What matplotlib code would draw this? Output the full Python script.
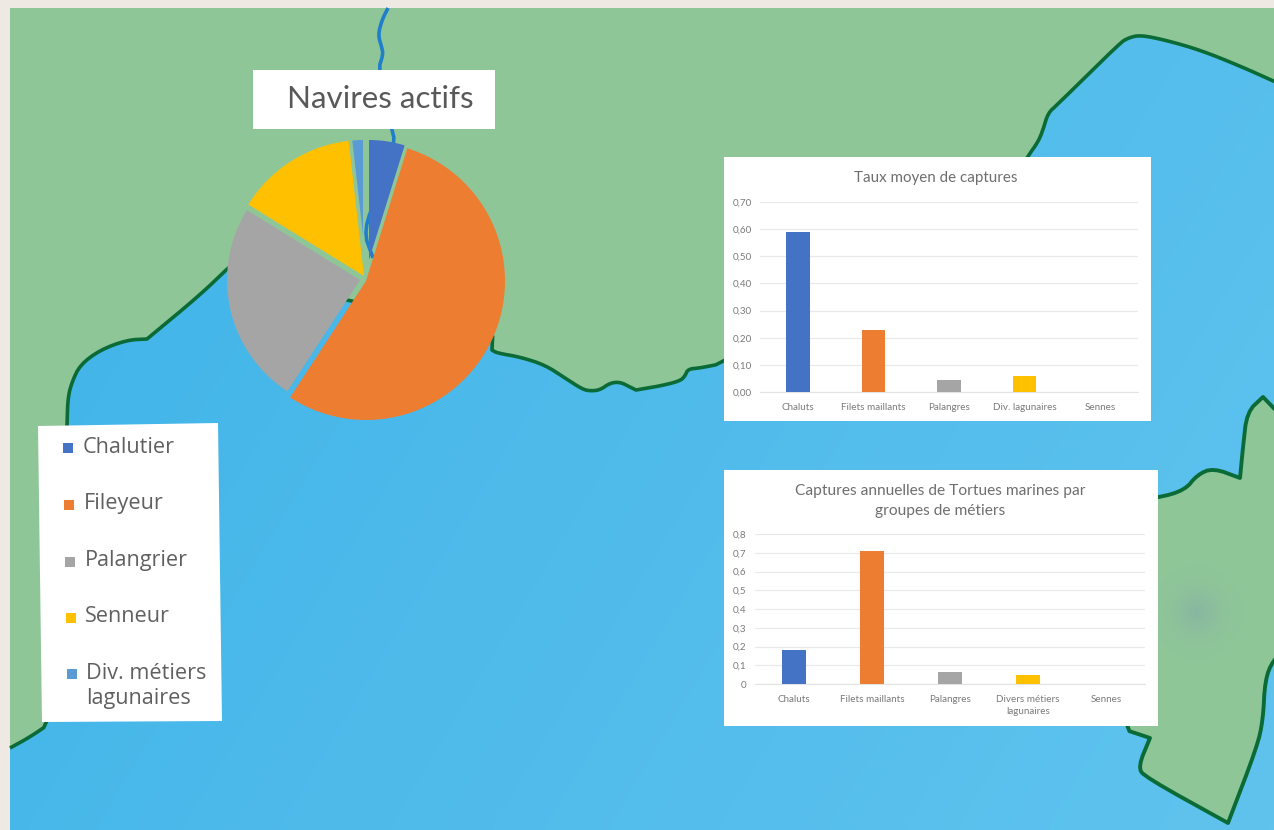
import numpy as np
import matplotlib
matplotlib.use("Agg")
import matplotlib.pyplot as plt
from matplotlib.patches import Polygon, Rectangle

W, H = 1274, 830

# ---- data ----
pie_title = "Navires actifs"
legend_labels = ["Chalutier", "Fileyeur", "Palangrier", "Senneur", "Div. métiers\nlagunaires"]
pie_values = [4.8, 54.4, 24.6, 14.4, 1.8]

bar1_title = "Taux moyen de captures"
bar1_categories = ["Chaluts", "Filets maillants", "Palangres", "Div. lagunaires", "Sennes"]
bar1_values = [0.59, 0.23, 0.045, 0.06, 0.0]
bar1_ticks = [0.0, 0.1, 0.2, 0.3, 0.4, 0.5, 0.6, 0.7]
bar1_ticklabels = ["0,00", "0,10", "0,20", "0,30", "0,40", "0,50", "0,60", "0,70"]

bar2_title = "Captures annuelles de Tortues marines par\ngroupes de métiers"
bar2_categories = ["Chaluts", "Filets maillants", "Palangres", "Divers métiers\nlagunaires", "Sennes"]
bar2_values = [0.18, 0.71, 0.065, 0.05, 0.0]
bar2_ticks = [0, 0.1, 0.2, 0.3, 0.4, 0.5, 0.6, 0.7, 0.8]
bar2_ticklabels = ["0", "0,1", "0,2", "0,3", "0,4", "0,5", "0,6", "0,7", "0,8"]

colors = ["#4472C4", "#ED7D31", "#A5A5A5", "#FFC000", "#5B9BD5"]

# ---- background map outlines (decor, in picture pixels) ----
coast = [(10, 748), (10, 748), (30, 737), (52, 722), (62, 600), (67, 423), (68, 397), (72, 382),
         (80, 365), (100, 350), (127, 340), (147, 339), (147, 339), (200, 295), (227, 269), (232, 265),
         (340, 298), (350, 301), (493, 328), (492, 350), (492, 350), (497, 353), (520, 357), (545, 365),
         (565, 378), (582, 389), (590, 391), (600, 390), (610, 383), (620, 382), (630, 387),
         (636, 390), (636, 390), (660, 386), (680, 381), (685, 376), (688, 369), (700, 368), (725, 363),
         (1000, 200), (1028, 156), (1038, 142), (1043, 130), (1048, 113), (1057, 105), (1120, 43),
         (1128, 38), (1140, 35), (1165, 40), (1200, 50), (1240, 66), (1280, 84), (1280, 84)]
island = [(1290, 425), (1263, 397), (1263, 397), (1263, 397), (1247, 412), (1243, 447), (1240, 478),
          (1240, 478), (1240, 478), (1213, 468), (1197, 475), (1185, 490), (1158, 498), (1120, 500),
          (1117, 727), (1150, 738), (1150, 738), (1150, 738), (1138, 767), (1145, 777), (1228, 823),
          (1228, 823), (1228, 823), (1257, 747), (1263, 720), (1265, 680), (1273, 660), (1290, 645)]
river = [(388, 8), (388, 8), (382, 20), (378, 35), (382, 48), (383, 55), (378, 70), (392, 130), (395, 142),
         (380, 190), (363, 230), (373, 258)]


def smooth(points, n=2):
    p = np.array(points, float)
    for _ in range(n):
        a = p[:-1] * 0.75 + p[1:] * 0.25
        b = p[:-1] * 0.25 + p[1:] * 0.75
        q = np.empty((len(a) * 2, 2))
        q[0::2], q[1::2] = a, b
        p = np.vstack([p[0], q, p[-1]])
    return p


fig = plt.figure(figsize=(W / 100, H / 100), dpi=100, facecolor="#EEEAE3")
plt.rcParams["font.family"] = ["Lato", "DejaVu Sans"]

bg = fig.add_axes([0, 0, 1, 1])
bg.set_xlim(0, W)
bg.set_ylim(H, 0)
bg.axis("off")

LAND = "#8FC698"
LINE = "#0B6B36"
bg.add_patch(Rectangle((10, 8), W - 10, H - 8, fc=LAND, ec="none", zorder=1))

coast_s = smooth(coast)
sea_poly = np.vstack([coast_s, [(1285, 840), (10, 840)]])
sea_clip = Polygon(sea_poly, closed=True, transform=bg.transData, fc="none", ec="none")
bg.add_patch(sea_clip)
gx, gy = np.meshgrid(np.linspace(0, 1, 128), np.linspace(0, 1, 84))
grad = np.clip(0.72 * gx + 0.28 * gy, 0, 1)[..., None]
c0 = np.array([0x3E, 0xB3, 0xE8]) / 255
c1 = np.array([0x60, 0xC3, 0xEE]) / 255
im = bg.imshow(c0 + (c1 - c0) * grad, extent=(0, W, H, 0), aspect="auto", zorder=2, interpolation="bilinear")
im.set_clip_path(sea_clip)
bg.set_xlim(0, W)
bg.set_ylim(H, 0)
bg.plot(coast_s[:, 0], coast_s[:, 1], color=LINE, lw=2.6, zorder=3, solid_capstyle="butt")

island_s = smooth(island)
bg.add_patch(Polygon(island_s, closed=True, fc=LAND, ec=LINE, lw=2.8, zorder=4, joinstyle="round"))
# soft grey smudge on the island
sx, sy = np.meshgrid(np.linspace(1130, 1260, 70), np.linspace(550, 680, 70))
rr = np.hypot(sx - 1197, sy - 612) / 50
smudge = np.zeros(sx.shape + (4,))
smudge[..., :3] = np.array([0x85, 0xB0, 0xA6]) / 255
smudge[..., 3] = 0.7 * np.clip(1 - rr, 0, 1) ** 1.8
bg.imshow(smudge, extent=(1130, 1260, 680, 550), aspect="auto", zorder=5)
bg.set_xlim(0, W)
bg.set_ylim(H, 0)

rv = smooth(river)
bg.plot(rv[:, 0], rv[:, 1], color="#1F7FCB", lw=2.6, zorder=6, solid_capstyle="butt")

# pie title box
bg.add_patch(Rectangle((253, 70), 242, 59, fc="white", ec="none", zorder=7))
bg.text(380, 99, pie_title, fontsize=22.6, color="#595959", ha="center", va="center", zorder=8,
        family=["Lato", "DejaVu Sans"])

# legend panel
bg.add_patch(Polygon([(38, 426), (218, 423), (222, 721), (42, 722)], closed=True, fc="white", ec="none", zorder=7))
marker_xy = [(68, 448), (69, 505), (70, 562), (71, 618), (72, 674)]
text_xy = [(83, 447), (84, 503), (85, 560), (85, 616), (86, 686)]
for (mx, my), (tx, ty), lab, col in zip(marker_xy, text_xy, legend_labels, colors):
    bg.scatter([mx], [my], marker="s", s=48, color=col, zorder=8, linewidths=0)
    bg.text(tx, ty, lab, fontsize=15.6, color="#606060", ha="left", va="center", zorder=8,
            family=["Open Sans", "DejaVu Sans"], linespacing=1.25)

# pie chart
pie_ax = fig.add_axes([0, 0, 1, 1], facecolor="none", zorder=3)
wedges, _ = pie_ax.pie(pie_values, colors=colors, startangle=90, counterclock=False,
                       center=(364, H - 278), radius=139, frame=True,
                       wedgeprops={"linewidth": 0})
pie_ax.set_xlim(0, W)
pie_ax.set_ylim(0, H)
pie_ax.set_aspect("auto")
pie_ax.axis("off")
wedge_geometry = [((369, 260), 120), ((366, 281), 139), ((360, 280), 133), ((364, 276), 136), ((363, 235), 95)]
for w, ((cx, cy), r) in zip(wedges, wedge_geometry):
    w.set_center((cx, H - cy))
    w.set_radius(r)


def bar_chart(box, plot, title, title_xy, title_size, cats, vals, ticks, ticklabels, ymax, width):
    x0, y0, x1, y1 = box
    bg.add_patch(Rectangle((x0, y0), x1 - x0, y1 - y0, fc="white", ec="none", zorder=7))
    px0, py0, px1, py1 = plot
    ax = fig.add_axes([px0 / W, 1 - py1 / H, (px1 - px0) / W, (py1 - py0) / H], facecolor="none", zorder=4)
    ax.bar(range(len(vals)), vals, width=width, color=colors[:len(vals)], zorder=3)
    ax.set_xlim(-0.5, len(vals) - 0.5)
    ax.set_ylim(0, ymax)
    ax.set_yticks(ticks, ticklabels)
    ax.set_xticks(range(len(cats)), cats)
    ax.tick_params(length=0, labelsize=7.1, labelcolor="#7A7A7A", pad=6)
    ax.tick_params(axis="x", pad=8)
    ax.grid(axis="y", color="#E9E9E9", lw=0.9, zorder=0)
    for s in ax.spines.values():
        s.set_visible(False)
    ax.spines["bottom"].set_visible(True)
    ax.spines["bottom"].set_color("#E3E3E3")
    for lab in ax.get_xticklabels() + ax.get_yticklabels():
        lab.set_linespacing(1.35)
    bg.text(title_xy[0], title_xy[1], title, fontsize=title_size, color="#6E6E6E",
            ha="center", va="center", zorder=8, linespacing=1.6)
    return ax


bar_chart((724, 157, 1151, 421), (760, 202, 1138, 392), bar1_title, (936, 178), 10.9,
          bar1_categories, bar1_values, bar1_ticks, bar1_ticklabels, 0.70, 0.31)
bar_chart((724, 470, 1158, 726), (755, 534, 1145, 684), bar2_title, (940, 501), 11.2,
          bar2_categories, bar2_values, bar2_ticks, bar2_ticklabels, 0.8, 0.31)

fig.savefig("out.png", dpi=100, facecolor=fig.get_facecolor())
